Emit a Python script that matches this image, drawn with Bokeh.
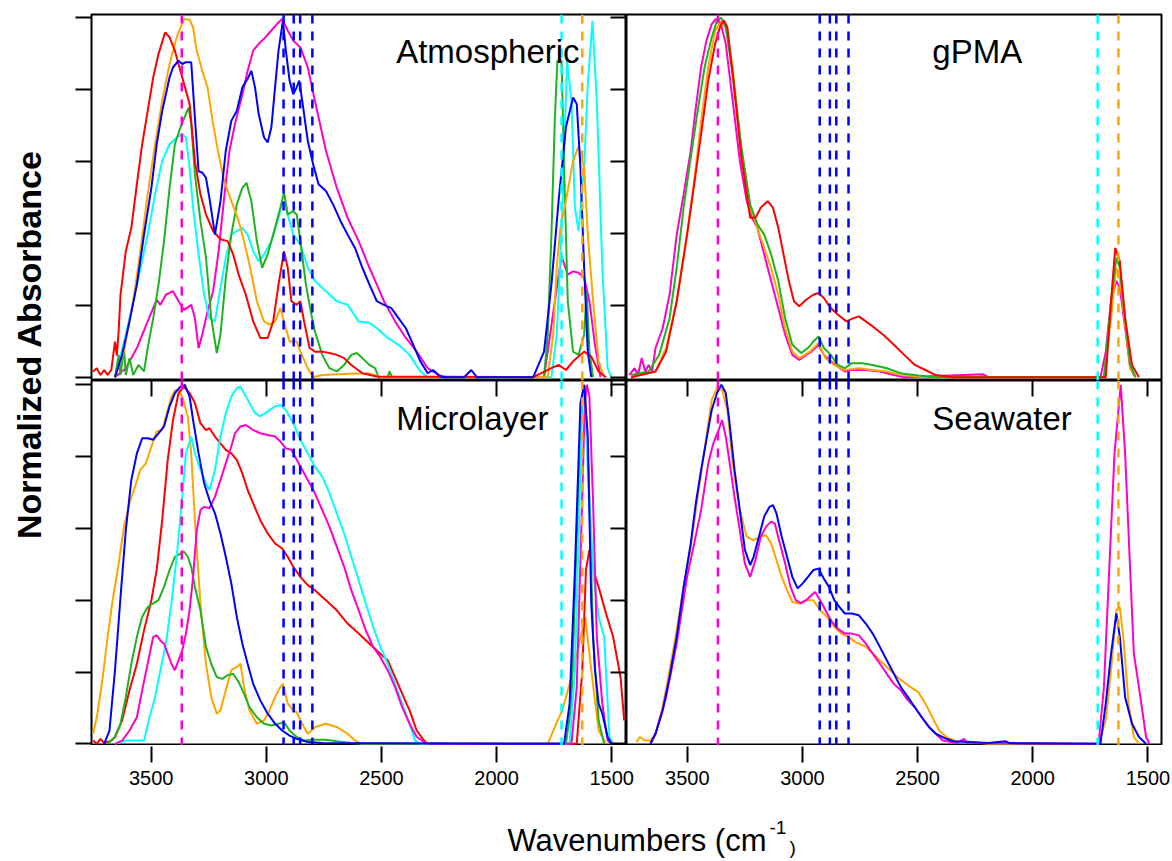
import math
from bokeh.plotting import figure
from bokeh.models import Range1d, FixedTicker, LinearAxis, Label, Span
from bokeh.layouts import row, column
from bokeh.embed import file_html
from bokeh.resources import INLINE

FONT = "Liberation Sans"
COL = {"red": "#FF0000", "orange": "#FFA500", "blue": "#0000FF",
       "cyan": "#00FFFF", "green": "#1FB31F", "magenta": "#FF00CC"}

# ---------------- data (wavenumber, normalized absorbance) ----------------
# Atmospheric
atm_red_wn = [3752, 3736, 3720, 3704, 3689, 3673, 3657, 3649, 3641, 3633, 3610, 3586, 3562, 3539, 3515, 3491, 3468, 3439, 3420, 3397, 3373, 3349, 3333, 3310, 3286, 3262, 3231, 3199, 3168, 3144, 3120, 3089, 3057, 3026, 2994, 2970, 2947, 2923, 2907, 2891, 2868, 2852, 2836, 2812, 2789, 2757, 2726, 2694, 2662, 2631, 2583, 2520, 1841, 1762, 1731, 1699, 1668, 1620, 1589, 1557, 1525]
atm_red_ab = [.016, .025, .006, .020, .006, .020, .099, .060, .130, .229, .350, .415, .536, .647, .740, .833, .898, .958, .944, .907, .851, .796, .759, .601, .508, .452, .406, .383, .378, .341, .285, .229, .155, .109, .109, .155, .257, .350, .304, .211, .201, .211, .155, .081, .071, .071, .067, .062, .053, .034, .011, .002, 0, .025, .034, .020, .044, .071, .057, .016, 0]
atm_orange_wn = [3657, 3618, 3578, 3547, 3515, 3483, 3452, 3420, 3389, 3357, 3333, 3318, 3302, 3278, 3255, 3231, 3207, 3183, 3152, 3120, 3097, 3073, 3041, 3010, 2986, 2962, 2939, 2923, 2899, 2868, 2852, 2820, 2797, 2757, 2615, 2552, 2500, 1778, 1754, 1739, 1723, 1699, 1668, 1644, 1620, 1604, 1581, 1557, 1533]
atm_orange_ab = [0, .071, .211, .350, .508, .647, .768, .870, .944, .995, .993, .972, .907, .851, .805, .703, .619, .545, .490, .434, .378, .313, .211, .155, .146, .155, .192, .155, .099, .099, .071, .025, 0, .006, .010, .010, 0, 0, .118, .304, .415, .489, .601, .642, .582, .396, .211, .044, 0]
atm_blue_wn = [3657, 3626, 3594, 3562, 3531, 3499, 3476, 3452, 3436, 3420, 3405, 3381, 3365, 3349, 3326, 3310, 3294, 3278, 3262, 3247, 3223, 3199, 3176, 3152, 3128, 3104, 3081, 3065, 3049, 3033, 3010, 2994, 2978, 2962, 2947, 2928, 2915, 2899, 2883, 2868, 2857, 2844, 2820, 2797, 2773, 2741, 2710, 2678, 2647, 2615, 2583, 2552, 2520, 2489, 2457, 2426, 2394, 2362, 2331, 2299, 2276, 2252, 2236, 2141, 2110, 2086, 1841, 1794, 1762, 1731, 1699, 1668, 1652, 1636, 1620, 1604, 1589]
atm_blue_ab = [0, .062, .155, .257, .396, .526, .647, .740, .786, .833, .861, .879, .870, .875, .875, .721, .572, .568, .554, .498, .396, .489, .629, .712, .740, .805, .829, .851, .805, .731, .666, .652, .694, .805, .907, .990, .907, .824, .786, .805, .824, .768, .657, .592, .536, .517, .480, .434, .396, .359, .304, .257, .211, .201, .192, .164, .136, .090, .044, .011, .020, .006, 0, 0, .020, 0, 0, .071, .257, .489, .694, .777, .759, .582, .304, .071, 0]
atm_cyan_wn = [3657, 3610, 3562, 3515, 3483, 3452, 3420, 3389, 3365, 3349, 3333, 3318, 3294, 3270, 3247, 3223, 3199, 3176, 3152, 3128, 3104, 3081, 3057, 3033, 3010, 2978, 2947, 2928, 2907, 2883, 2852, 2820, 2789, 2741, 2694, 2647, 2599, 2552, 2520, 2473, 2426, 2378, 2331, 2299, 1762, 1739, 1715, 1694, 1675, 1660, 1644, 1620, 1604, 1584, 1565, 1541, 1518, 1502]
atm_cyan_ab = [0, .118, .257, .396, .508, .601, .647, .666, .675, .666, .582, .471, .341, .229, .164, .155, .248, .332, .396, .406, .415, .396, .350, .322, .341, .378, .443, .489, .452, .396, .369, .304, .267, .239, .211, .201, .155, .151, .136, .109, .090, .062, .016, 0, 0, .118, .452, .879, .768, .471, .406, .582, .814, .990, .768, .304, .025, 0]
atm_green_wn = [3657, 3641, 3633, 3618, 3610, 3594, 3578, 3555, 3531, 3515, 3491, 3468, 3444, 3420, 3397, 3373, 3349, 3337, 3326, 3310, 3286, 3262, 3239, 3215, 3199, 3176, 3152, 3128, 3104, 3086, 3065, 3041, 3018, 2994, 2962, 2939, 2923, 2907, 2883, 2868, 2852, 2828, 2804, 2789, 2757, 2726, 2694, 2662, 2631, 2607, 2583, 2552, 2528, 2512, 2473, 2465, 2454, 1794, 1778, 1762, 1747, 1736, 1718, 1707, 1691, 1668, 1644, 1620, 1609, 1597, 1581]
atm_green_ab = [0, .062, .006, .081, .006, .053, .006, .034, .016, .081, .164, .257, .378, .526, .647, .694, .731, .749, .703, .564, .434, .332, .164, .067, .118, .276, .396, .480, .526, .540, .489, .378, .304, .341, .415, .471, .513, .452, .461, .452, .378, .257, .174, .127, .062, .025, .016, .034, .062, .067, .053, .034, .025, 0, 0, .016, 0, 0, .118, .396, .721, .879, .879, .582, .211, .071, .062, .118, .239, .071, 0]
atm_magenta_wn = [3657, 3610, 3562, 3515, 3476, 3460, 3436, 3405, 3381, 3357, 3326, 3310, 3294, 3278, 3255, 3231, 3207, 3183, 3160, 3136, 3104, 3081, 3057, 3033, 3010, 2978, 2954, 2931, 2907, 2883, 2852, 2820, 2789, 2741, 2694, 2647, 2599, 2552, 2520, 2489, 2441, 2394, 2347, 2299, 2252, 2220, 1794, 1747, 1718, 1691, 1668, 1644, 1620, 1597, 1573, 1549]
atm_magenta_ab = [0, .025, .081, .155, .215, .201, .229, .239, .211, .187, .201, .164, .081, .118, .183, .239, .350, .499, .629, .703, .786, .851, .907, .926, .940, .963, .981, .995, .963, .935, .916, .861, .768, .629, .526, .443, .378, .304, .257, .211, .155, .109, .071, .025, .006, 0, 0, .211, .336, .285, .294, .290, .276, .211, .090, 0]

# gPMA
gpma_magenta_wn = [3752, 3729, 3714, 3698, 3683, 3668, 3653, 3638, 3607, 3577, 3546, 3516, 3485, 3463, 3440, 3417, 3394, 3376, 3356, 3333, 3303, 3272, 3242, 3219, 3196, 3166, 3136, 3105, 3075, 3044, 3014, 2984, 2961, 2930, 2907, 2877, 2847, 2816, 2786, 2725, 2664, 2603, 2558, 2215, 2193, 1706, 1683, 1660, 1637, 1622, 1599, 1577, 1554]
gpma_magenta_ab = [.006, .025, .006, .053, .016, .034, .016, .081, .136, .229, .396, .508, .629, .749, .861, .935, .981, .995, .986, .926, .768, .601, .489, .443, .415, .341, .267, .192, .118, .062, .048, .062, .071, .090, .062, .044, .030, .016, .020, .020, .016, .006, 0, .008, 0, 0, .071, .211, .267, .248, .136, .025, 0]
gpma_orange_wn = [3744, 3638, 3592, 3546, 3501, 3470, 3440, 3409, 3379, 3356, 3333, 3303, 3265, 3227, 3196, 3166, 3136, 3105, 3075, 3044, 3014, 2968, 2930, 2900, 2862, 2816, 2755, 2695, 2634, 2573, 2497, 2421, 1691, 1660, 1637, 1622, 1599, 1577, 1554]
gpma_orange_ab = [0, .016, .081, .211, .396, .545, .712, .861, .963, .986, .972, .861, .629, .471, .415, .359, .304, .229, .136, .071, .053, .071, .095, .053, .034, .020, .025, .020, .016, .006, .002, 0, 0, .164, .304, .276, .146, .025, 0]
gpma_green_wn = [3744, 3668, 3622, 3577, 3546, 3516, 3485, 3455, 3425, 3394, 3371, 3352, 3333, 3303, 3265, 3227, 3196, 3166, 3136, 3105, 3075, 3044, 3006, 2976, 2953, 2930, 2907, 2877, 2847, 2816, 2786, 2740, 2695, 2634, 2573, 2497, 2421, 1691, 1660, 1637, 1622, 1599, 1577, 1554]
gpma_green_ab = [.006, .016, .062, .164, .304, .471, .610, .740, .861, .944, .991, .998, .972, .842, .638, .480, .425, .396, .341, .267, .164, .090, .067, .081, .099, .113, .081, .062, .034, .025, .039, .039, .034, .025, .011, .005, 0, 0, .211, .332, .304, .164, .034, 0]
gpma_red_wn = [3744, 3638, 3592, 3546, 3501, 3470, 3440, 3409, 3379, 3356, 3341, 3326, 3303, 3265, 3227, 3204, 3181, 3151, 3128, 3105, 3082, 3059, 3037, 3014, 2984, 2953, 2930, 2907, 2877, 2847, 2809, 2778, 2755, 2725, 2695, 2649, 2603, 2558, 2512, 2466, 2421, 2345, 1683, 1660, 1642, 1622, 1599, 1569, 1539]
gpma_red_ab = [0, .016, .071, .211, .396, .536, .675, .824, .926, .977, .991, .972, .842, .610, .443, .443, .471, .489, .471, .415, .341, .267, .211, .197, .215, .229, .234, .220, .192, .174, .155, .164, .169, .155, .141, .118, .090, .062, .034, .020, .006, 0, 0, .211, .359, .322, .164, .034, 0]

# Microlayer
mic_orange_wn = [3752, 3736, 3712, 3689, 3665, 3641, 3618, 3594, 3570, 3547, 3523, 3499, 3476, 3452, 3428, 3412, 3397, 3381, 3365, 3341, 3326, 3310, 3286, 3262, 3239, 3215, 3199, 3176, 3152, 3128, 3112, 3097, 3073, 3041, 3010, 2986, 2962, 2939, 2928, 2907, 2883, 2868, 2844, 2820, 2804, 2789, 2741, 2694, 2647, 2615, 2583, 1778, 1747, 1715, 1683, 1652, 1628, 1615, 1589, 1557, 1525]
mic_orange_ab = [.028, .074, .177, .298, .409, .502, .605, .670, .716, .763, .781, .828, .870, .874, .930, .967, .984, .986, .967, .912, .809, .623, .391, .223, .130, .084, .093, .149, .205, .214, .223, .158, .093, .056, .065, .093, .130, .158, .167, .112, .093, .088, .056, .028, .037, .047, .056, .047, .028, .009, 0, 0, .047, .093, .167, .251, .316, .353, .205, .037, 0]
mic_blue_wn = [3704, 3681, 3657, 3633, 3610, 3586, 3562, 3539, 3515, 3491, 3468, 3444, 3420, 3397, 3373, 3354, 3333, 3318, 3294, 3270, 3247, 3223, 3199, 3176, 3152, 3128, 3104, 3081, 3057, 3026, 2994, 2962, 2931, 2899, 2868, 2820, 2757, 1707, 1683, 1660, 1636, 1620, 1604, 1589, 1573, 1557, 1541, 1518, 1502]
mic_blue_ab = [0, .037, .205, .409, .595, .735, .809, .851, .851, .847, .865, .884, .940, .977, .995, 1.0, .967, .902, .809, .726, .679, .642, .586, .521, .447, .353, .279, .223, .167, .121, .084, .056, .037, .023, .014, .005, .002, 0, .112, .484, .949, 1.0, .856, .391, .205, .112, .084, .019, 0]
mic_red_wn = [3752, 3736, 3720, 3704, 3673, 3657, 3626, 3594, 3562, 3531, 3499, 3476, 3452, 3428, 3405, 3381, 3357, 3333, 3310, 3286, 3262, 3247, 3223, 3199, 3176, 3152, 3128, 3104, 3081, 3057, 3026, 2994, 2962, 2931, 2907, 2883, 2852, 2820, 2789, 2741, 2694, 2647, 2599, 2552, 2505, 2473, 2441, 2410, 2378, 2347, 2315, 2299, 1652, 1628, 1612, 1597, 1581, 1557, 1525, 1494, 1462, 1446]
mic_red_ab = [.009, 0, .014, .002, .009, .019, .065, .149, .223, .316, .400, .484, .623, .791, .902, .977, .995, .977, .949, .893, .874, .879, .856, .837, .819, .809, .791, .753, .707, .670, .623, .586, .558, .544, .521, .493, .465, .442, .428, .400, .372, .335, .307, .279, .251, .233, .186, .140, .093, .037, .009, 0, 0, .205, .484, .540, .484, .437, .363, .298, .186, .065]
mic_cyan_wn = [3657, 3610, 3531, 3507, 3483, 3460, 3436, 3412, 3389, 3365, 3349, 3326, 3310, 3286, 3262, 3247, 3223, 3199, 3176, 3152, 3128, 3112, 3097, 3073, 3049, 3026, 2994, 2962, 2939, 2915, 2883, 2852, 2820, 2789, 2757, 2726, 2694, 2662, 2631, 2599, 2568, 2536, 2505, 2473, 2441, 2410, 2378, 2354, 2331, 1683, 1660, 1644, 1628, 1620, 1604, 1581, 1557, 1533, 1510, 1494]
mic_cyan_ab = [0, .009, .009, .074, .130, .205, .279, .391, .521, .688, .809, .856, .809, .763, .726, .707, .763, .856, .921, .967, .991, .995, .977, .949, .921, .912, .926, .940, .944, .930, .893, .847, .809, .772, .744, .698, .642, .586, .521, .456, .391, .326, .270, .223, .167, .112, .056, .009, 0, 0, .205, .577, .949, .995, .763, .484, .353, .298, .019, 0]
mic_green_wn = [3689, 3657, 3633, 3610, 3586, 3562, 3539, 3515, 3491, 3468, 3444, 3420, 3397, 3373, 3357, 3341, 3326, 3310, 3286, 3262, 3239, 3215, 3191, 3168, 3144, 3120, 3097, 3073, 3041, 3010, 2978, 2947, 2923, 2899, 2868, 2836, 2789, 2741, 2694, 2631, 2583, 1699, 1675, 1652, 1628, 1617, 1601, 1581, 1557, 1533]
mic_green_ab = [0, .019, .056, .130, .223, .298, .353, .381, .391, .400, .437, .484, .521, .530, .535, .521, .493, .437, .372, .270, .223, .186, .181, .191, .195, .172, .140, .102, .074, .056, .051, .056, .060, .037, .019, .009, .011, .011, .007, .002, 0, 0, .112, .577, .967, .995, .763, .298, .065, 0]
mic_magenta_wn = [3657, 3626, 3594, 3562, 3539, 3515, 3491, 3476, 3460, 3444, 3428, 3412, 3397, 3381, 3365, 3349, 3333, 3318, 3302, 3286, 3270, 3247, 3223, 3199, 3176, 3152, 3136, 3112, 3089, 3057, 3026, 2994, 2962, 2939, 2915, 2891, 2868, 2844, 2820, 2789, 2757, 2726, 2694, 2662, 2631, 2599, 2568, 2536, 2505, 2473, 2441, 2410, 2378, 2347, 2315, 2299, 1675, 1652, 1633, 1617, 1608, 1597, 1581, 1565, 1541, 1518, 1502]
mic_magenta_ab = [0, .009, .037, .074, .149, .223, .298, .302, .288, .279, .251, .223, .205, .233, .260, .307, .372, .465, .595, .651, .660, .656, .688, .735, .781, .828, .865, .884, .888, .874, .865, .860, .856, .842, .823, .819, .791, .763, .735, .698, .651, .605, .549, .493, .428, .372, .316, .270, .242, .205, .158, .102, .056, .019, .005, 0, 0, .158, .577, .949, 1.0, .967, .670, .298, .112, .009, 0]

# Seawater
sea_blue_wn = [3660, 3638, 3607, 3577, 3546, 3516, 3485, 3463, 3440, 3417, 3394, 3371, 3352, 3333, 3318, 3295, 3272, 3250, 3227, 3212, 3189, 3166, 3143, 3128, 3113, 3090, 3067, 3044, 3021, 2999, 2976, 2953, 2930, 2907, 2885, 2862, 2839, 2816, 2786, 2755, 2725, 2695, 2664, 2634, 2603, 2573, 2542, 2512, 2482, 2451, 2421, 2375, 2345, 2269, 2193, 2117, 2101, 1706, 1683, 1660, 1637, 1622, 1599, 1569, 1539, 1508]
sea_blue_ab = [0, .028, .093, .186, .298, .437, .558, .670, .763, .847, .930, .977, 1.0, .977, .902, .763, .651, .540, .498, .521, .577, .633, .660, .665, .642, .577, .521, .465, .433, .447, .465, .484, .488, .460, .437, .400, .381, .363, .363, .358, .335, .307, .270, .233, .195, .158, .130, .102, .074, .047, .028, .014, .007, .005, .002, .007, .002, 0, .112, .251, .363, .298, .130, .056, .019, 0]
sea_orange_wn = [3721, 3706, 3683, 3660, 3638, 3607, 3577, 3546, 3516, 3485, 3463, 3440, 3417, 3394, 3371, 3349, 3326, 3303, 3272, 3242, 3212, 3181, 3158, 3136, 3113, 3090, 3067, 3044, 3014, 2984, 2953, 2923, 2892, 2862, 2831, 2801, 2771, 2725, 2679, 2634, 2588, 2542, 2497, 2466, 2436, 2406, 2375, 2330, 2269, 2193, 1714, 1683, 1660, 1637, 1622, 1607, 1584, 1561, 1539]
sea_orange_ab = [.005, .019, .009, .009, .028, .102, .205, .316, .437, .549, .651, .753, .856, .958, .991, .986, .930, .781, .651, .577, .567, .577, .581, .558, .512, .465, .428, .395, .391, .400, .400, .372, .353, .326, .307, .298, .284, .270, .242, .214, .186, .163, .144, .112, .074, .037, .019, .007, .005, 0, 0, .065, .205, .372, .381, .298, .112, .019, 0]
sea_magenta_wn = [3660, 3638, 3592, 3546, 3501, 3470, 3440, 3409, 3387, 3364, 3349, 3333, 3318, 3295, 3272, 3250, 3227, 3204, 3181, 3158, 3136, 3120, 3098, 3075, 3052, 3029, 3006, 2984, 2961, 2945, 2923, 2900, 2877, 2847, 2816, 2786, 2755, 2725, 2695, 2664, 2634, 2603, 2573, 2542, 2512, 2482, 2451, 2421, 2390, 2330, 2299, 2284, 1714, 1691, 1668, 1645, 1618, 1599, 1577, 1561, 1539, 1508, 1493]
sea_magenta_ab = [0, .028, .130, .279, .465, .558, .651, .781, .837, .874, .902, .856, .791, .688, .595, .502, .465, .512, .577, .605, .619, .614, .558, .502, .437, .400, .391, .400, .414, .423, .400, .372, .344, .321, .307, .307, .302, .279, .251, .223, .195, .167, .149, .121, .102, .074, .047, .028, .009, .002, .014, .002, 0, .158, .484, .809, 1.0, .809, .484, .251, .158, .019, 0]

# reference band positions (dashed markers), cm-1
ref_magenta = [3367]
ref_blue = [2925, 2881, 2853, 2800]
ref_cyan = [1718]
ref_orange = [1628]

x_ticks = [3500, 3000, 2500, 2000, 1500]
y_ticks = [0, 0.2, 0.4, 0.6, 0.8, 1.0]

panels = {
    "Atmospheric": [("magenta", atm_magenta_wn, atm_magenta_ab), ("cyan", atm_cyan_wn, atm_cyan_ab),
                    ("green", atm_green_wn, atm_green_ab), ("orange", atm_orange_wn, atm_orange_ab),
                    ("red", atm_red_wn, atm_red_ab), ("blue", atm_blue_wn, atm_blue_ab)],
    "gPMA": [("magenta", gpma_magenta_wn, gpma_magenta_ab), ("orange", gpma_orange_wn, gpma_orange_ab),
             ("green", gpma_green_wn, gpma_green_ab), ("red", gpma_red_wn, gpma_red_ab)],
    "Microlayer": [("orange", mic_orange_wn, mic_orange_ab), ("red", mic_red_wn, mic_red_ab),
                   ("green", mic_green_wn, mic_green_ab), ("cyan", mic_cyan_wn, mic_cyan_ab),
                   ("magenta", mic_magenta_wn, mic_magenta_ab), ("blue", mic_blue_wn, mic_blue_ab)],
    "Seawater": [("orange", sea_orange_wn, sea_orange_ab), ("magenta", sea_magenta_wn, sea_magenta_ab),
                 ("blue", sea_blue_wn, sea_blue_ab)],
}

# ---------------- layout ----------------
FW = 535                      # frame width (px)
XL = (3759.0, 1436.0)         # left column x range
XR = (3764.0, 1441.0)         # right column x range
SCALE = FW / (XL[0] - XL[1])  # px per cm-1
YT = (-0.0092, 1.0075)
YB = (-0.0047, 1.012)


def base_fig(w, h, xr, yr, left=0, right=0, top=0, bottom=0, outline=True):
    p = figure(width=w, height=h, x_range=Range1d(*xr), y_range=Range1d(*yr),
               output_backend="svg", toolbar_location=None,
               x_axis_location=None, y_axis_location=None,
               min_border_left=left, min_border_right=right,
               min_border_top=top, min_border_bottom=bottom)
    p.xgrid.visible = False
    p.ygrid.visible = False
    p.background_fill_color = "white"
    p.border_fill_color = "white"
    if outline:
        p.outline_line_color = "black"
        p.outline_line_width = 2
    else:
        p.outline_line_color = None
    return p


def add_axis(p, side, ticks, tick_in, tick_out, labels=False):
    ax = LinearAxis(ticker=FixedTicker(ticks=ticks))
    ax.major_tick_in = tick_in
    ax.major_tick_out = tick_out
    ax.major_tick_line_width = 2
    ax.major_tick_line_color = "black"
    ax.minor_tick_line_color = None
    ax.axis_line_color = None
    if labels:
        ax.major_label_text_font = FONT
        ax.major_label_text_font_size = "20px"
        ax.major_label_text_color = "black"
        ax.major_label_standoff = 8
    else:
        ax.major_label_overrides = {t: "" for t in ticks}
        ax.major_label_text_font_size = "0px"
        ax.major_label_standoff = 0
    p.add_layout(ax, side)
    return ax


def draw_panel(p, name):
    for color, wn, ab in panels[name]:
        p.line(wn, ab, line_color=COL[color], line_width=2)
    for color, locs in (("magenta", ref_magenta), ("blue", ref_blue),
                        ("cyan", ref_cyan), ("orange", ref_orange)):
        for loc in locs:
            p.add_layout(Span(location=loc, dimension="height", line_color=COL[color],
                              line_dash="9 8", line_width=2.5))
    p.add_layout(Label(x=2436, y=0.906, text=name, text_font=FONT, text_font_size="33px",
                       text_color="black", text_baseline="alphabetic", text_align="left"))


TL = base_fig(31 + FW, 380, XL, YT, left=31, top=14)
TR = base_fig(FW + 11, 380, XR, YT, right=11, top=14)
BL = base_fig(31 + FW, 365, XL, YB, left=31)
BR = base_fig(FW + 11, 365, XR, YB, right=11)

add_axis(TL, "left", y_ticks, 0, 16)
add_axis(TL, "right", y_ticks, 16, 0)
add_axis(BL, "left", y_ticks, 0, 16)
add_axis(BL, "right", y_ticks, 16, 0)
add_axis(BL, "above", x_ticks, 16, 0)
add_axis(BR, "above", x_ticks, 16, 0)

draw_panel(TL, "Atmospheric")
draw_panel(TR, "gPMA")
draw_panel(BL, "Microlayer")
draw_panel(BR, "Seawater")

# tick-label strips under the bottom panels
stripL = base_fig(31 + FW + 14, 56, (XL[0], XL[0] - (FW + 14) / SCALE), (0, 1),
                  left=31, bottom=55, outline=False)
stripR = base_fig(FW - 14 + 11, 56, (XR[0] - 14 / SCALE, XR[1]), (0, 1),
                  right=11, bottom=55, outline=False)
add_axis(stripL, "below", x_ticks, 0, 16, labels=True)
add_axis(stripR, "below", x_ticks, 0, 16, labels=True)

grid_h = 380 + 365 + 56
ylab = base_fig(60, grid_h, (0, 60), (0, grid_h), outline=False)
ylab.add_layout(Label(x=28, y=grid_h - 344, text="Normalized Absorbance", angle=math.pi / 2,
                      text_font=FONT, text_font_size="34px", text_font_style="bold",
                      text_align="center", text_baseline="middle", text_color="black"))

xlab_h = 861 - grid_h
xlab = base_fig(1172, xlab_h, (0, 1172), (0, xlab_h), outline=False)
xlab.add_layout(Label(x=507, y=xlab_h - 39, text="Wavenumbers (cm", text_font=FONT,
                      text_font_size="31px", text_baseline="alphabetic", text_color="black"))
xlab.add_layout(Label(x=769, y=xlab_h - 26, text="-1", text_font=FONT,
                      text_font_size="19px", text_baseline="alphabetic", text_color="black"))
xlab.add_layout(Label(x=789, y=xlab_h - 46, text=")", text_font=FONT,
                      text_font_size="19px", text_baseline="alphabetic", text_color="black"))

layout = column(
    row(ylab, column(row(TL, TR), row(BL, BR), row(stripL, stripR))),
    xlab,
)

open("out.html", "w").write(file_html(layout, INLINE))
